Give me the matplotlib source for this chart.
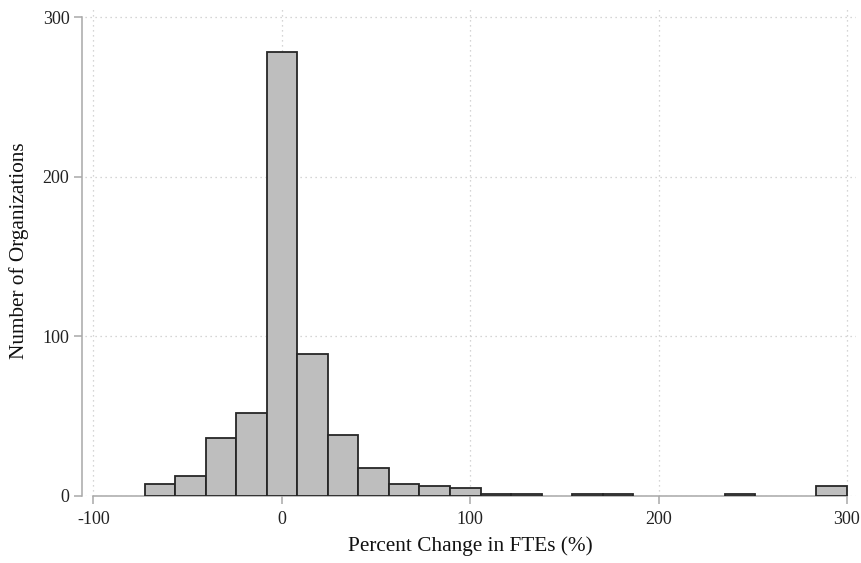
import numpy as np
import matplotlib
matplotlib.use('Agg')
from matplotlib import pyplot as plt

# histogram: 23 equal bins from about -73 to 300
bin_lo, bin_hi = -72.9, 300.0
counts = [7, 12, 36, 52, 278, 89, 38, 17, 7, 6, 5,
          1, 1, 0, 1, 1, 0, 0, 0, 1, 0, 0, 6]
xticks = [-100, 0, 100, 200, 300]
yticks = [0, 100, 200, 300]

plt.rcParams['font.family'] = ['Liberation Serif', 'DejaVu Serif']
plt.rcParams['axes.unicode_minus'] = False

edges = np.linspace(bin_lo, bin_hi, len(counts) + 1)
counts = np.array(counts)
keep = counts > 0

W, H = 861, 563
fig = plt.figure(figsize=(W / 100, H / 100), dpi=100)
# pixel box of the plot region
left, right, top, bottom = 85, 856.5, 5.5, 495.5
ax = fig.add_axes([left / W, 1 - bottom / H, (right - left) / W, (bottom - top) / H])

ax.bar(edges[:-1][keep], counts[keep], width=np.diff(edges)[keep], align='edge',
       color='#bebebe', edgecolor='#262626', linewidth=1.3, zorder=3)

pxu = (847 - 93.5) / 400.0
ax.set_xlim(-100 - (93.5 - left) / pxu, 300 + (right - 847) / pxu)
pyu = (495.5 - 17.3) / 300.0
ax.set_ylim(0, 300 + (17.3 - top) / pyu)

ax.set_xticks(xticks)
ax.set_yticks(yticks)
ax.grid(True, linestyle=(0, (1, 3)), color='#c8c8c8', linewidth=0.9, zorder=0)

for s in ['top', 'right']:
    ax.spines[s].set_visible(False)
ax.spines['left'].set_position(('outward', 2.2))
ax.spines['left'].set_bounds(0, 300)
ax.spines['bottom'].set_bounds(-100, 300)
for s in ['left', 'bottom']:
    ax.spines[s].set_color('#a8a8a8')
    ax.spines[s].set_linewidth(1.1)
ax.tick_params(axis='both', color='#a8a8a8', width=1.1, length=6,
               labelsize=13, labelcolor='#222222')
ax.tick_params(axis='x', pad=5)
ax.tick_params(axis='y', pad=3)

ax.set_xlabel('Percent Change in FTEs (%)', fontsize=15.3, color='#111111', labelpad=6)
ax.set_ylabel('Number of Organizations', fontsize=15.3, color='#111111', labelpad=10)

fig.savefig('out.png', dpi=100)
